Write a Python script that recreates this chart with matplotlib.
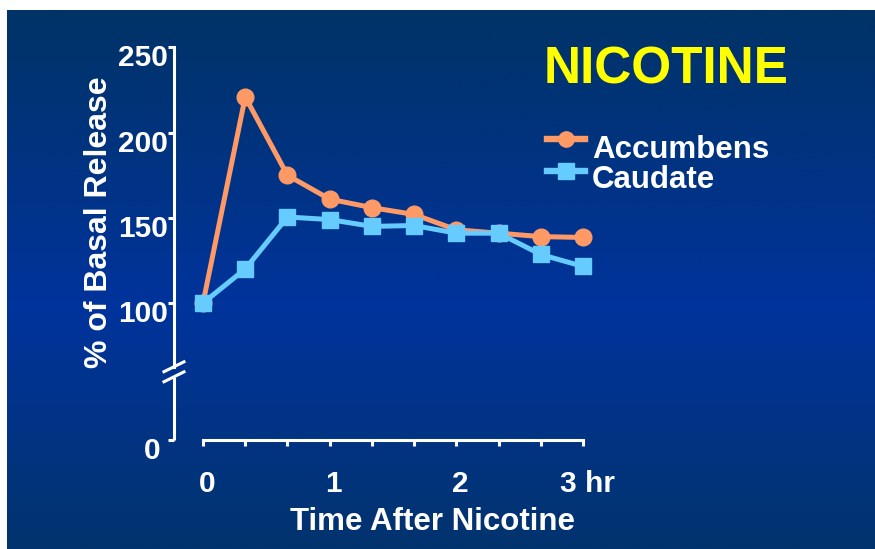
import matplotlib.pyplot as plt
import matplotlib.transforms as mtransforms
import numpy as np
from matplotlib.colors import LinearSegmentedColormap
from matplotlib.lines import Line2D

# Release after nicotine, % of basal, sampled every 20 min
hours = np.arange(10) / 3
accumbens = [100, 221, 175, 161, 156, 152, 143, 141, 139, 138.5]
caudate = [100, 120, 150.5, 149, 145, 145.5, 141, 141, 128.5, 121.5]

x_tick_labels = ['0', '', '', '1', '', '', '2', '', '', '3 hr']
y_ticks = [100, 150, 200, 250]
y_tick_labels = ['100', '150', '200', '250']

# axis is broken below 100: the "0" tick is drawn at this scale position
zero_pos = 19.6
break_low, break_high = 56.7, 62.6

accumbens_color = '#FF9966'
caudate_color = '#66CCFF'
W, H = 875, 549

plt.rcParams['font.family'] = 'Liberation Sans'
plt.rcParams['font.weight'] = 'bold'


def px(x, y):
    # pixel position (from top-left) -> figure fraction
    return x / W, 1 - y / H


fig = plt.figure(figsize=(W / 100, H / 100), dpi=100, facecolor='white')

# slide backdrop: vertical blue gradient
bg = fig.add_axes([7 / W, 0, 1 - 7 / W, 539 / H], zorder=-1)
slide = LinearSegmentedColormap.from_list(
    'slide', [(0, '#003366'), (0.55, '#00339C'), (1, '#02346E')])
bg.imshow(np.linspace(0, 1, 256).reshape(-1, 1), aspect='auto', cmap=slide,
          extent=[0, 1, 0, 1])
bg.axis('off')

ax = fig.add_axes([174 / W, 109 / H, 426 / W, 392.5 / H])
ax.patch.set_visible(False)
xmin, xmax = -0.229, 3.134
ax.set_xlim(xmin, xmax)
ax.set_ylim(zero_pos, 250)

ax.plot(hours, accumbens, color=accumbens_color, lw=3.6, marker='o', ms=12,
        mec=accumbens_color, clip_on=False, zorder=3)
ax.plot(hours, caudate, color=caudate_color, lw=3.6, marker='s', ms=11.5,
        mec=caudate_color, clip_on=False, zorder=4)

# axes lines
for side in ['top', 'right']:
    ax.spines[side].set_visible(False)
for side in ['left', 'bottom']:
    ax.spines[side].set_color('white')
    ax.spines[side].set_linewidth(2.2)
ax.spines['left'].set_bounds(break_high, 250)
ax.spines['bottom'].set_bounds(0, 3)
ax.plot([xmin, xmin], [zero_pos, break_low], color='white', lw=2.2,
        clip_on=False, solid_capstyle='butt')
dx, dy = 0.079, 2.9
for b in (break_low, break_high):
    ax.plot([xmin - dx, xmin + dx], [b - dy, b + dy], color='white', lw=2.2,
            clip_on=False)

ax.set_xticks(hours, x_tick_labels)
ax.set_yticks([zero_pos] + y_ticks, ['0'] + y_tick_labels)
ax.tick_params(direction='out', length=4.3, width=2.2, color='white',
               labelcolor='white', labelsize=21.5)
ax.tick_params(axis='x', pad=17.5)
ax.tick_params(axis='y', pad=0.3)

shift_x = mtransforms.ScaledTranslation(0.04, 0, fig.dpi_scale_trans)
for label in ax.get_xticklabels():
    label.set_transform(label.get_transform() + shift_x)
shift_y = mtransforms.ScaledTranslation(0, -0.08, fig.dpi_scale_trans)
for label in ax.get_yticklabels():
    label.set_transform(label.get_transform() + shift_y)
# the "0" sits a little further out than the other values
zero_label = ax.get_yticklabels()[0]
zero_label.set_transform(zero_label.get_transform()
                         + mtransforms.ScaledTranslation(-0.07, 0, fig.dpi_scale_trans))

fig.text(*px(432.5, 530), 'Time After Nicotine', color='white', fontsize=22.5,
         ha='center', va='baseline')
fig.text(*px(107, 222), '% of Basal Release', color='white', fontsize=23,
         rotation=90, rotation_mode='anchor', ha='center', va='baseline')
fig.text(*px(666, 83.3), 'NICOTINE', color='#FFFF00', fontsize=37,
         ha='center', va='baseline')

# legend
for name, color, marker, ms, y_line, y_text in [
        ('Accumbens', accumbens_color, 'o', 11, 139, 158),
        ('Caudate', caudate_color, 's', 11.5, 171, 188)]:
    x0, y0 = px(547, y_line)
    x1, _ = px(585, y_line)
    fig.add_artist(Line2D([x0, x1], [y0, y0], color=color, lw=4.6,
                          transform=fig.transFigure))
    fig.add_artist(Line2D([(x0 + x1) / 2], [y0], color=color, marker=marker,
                          ms=ms, mec=color, transform=fig.transFigure))
    fig.text(*px(592, y_text), name, color='white', fontsize=22.5,
             ha='left', va='baseline')

fig.savefig('out.png', dpi=100, facecolor=fig.get_facecolor())
